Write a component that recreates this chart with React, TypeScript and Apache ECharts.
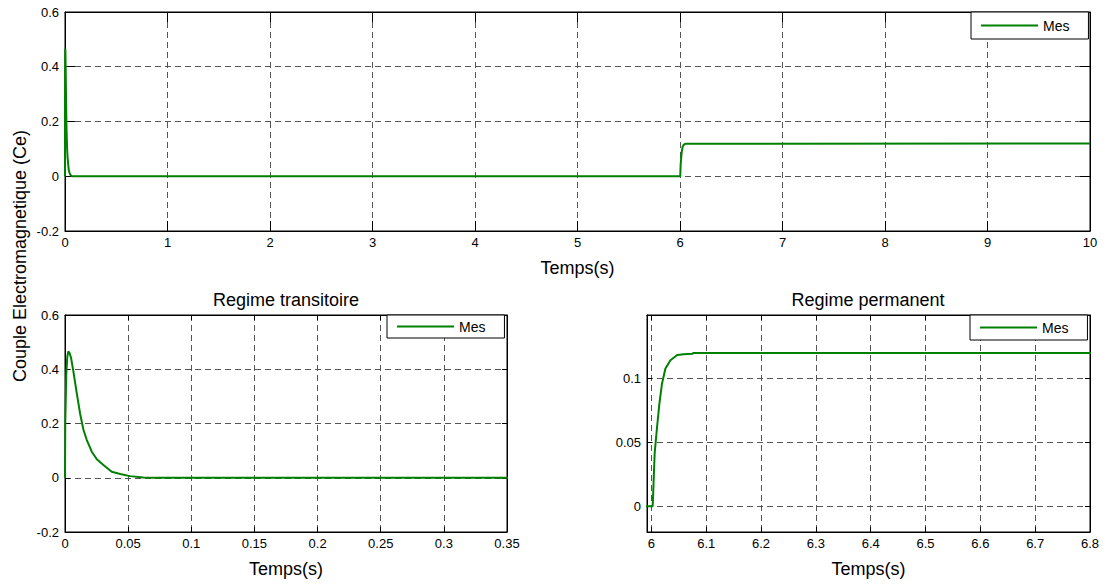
import React, { useEffect, useRef } from "react";
import * as echarts from "echarts";

// Time (s) and electromagnetic torque (Ce)
const TIME = [
  0, 0.0002, 0.001, 0.0018, 0.0026, 0.0036, 0.0048, 0.0066, 0.0093, 0.0119,
  0.0146, 0.0172, 0.0212, 0.0252, 0.0304, 0.037, 0.0437, 0.0516, 0.062, 0.07,
  6.0024, 6.006, 6.0104, 6.0146, 6.0195, 6.0256, 6.0348, 6.047, 6.059, 6.0744,
  6.077, 10,
];
const CE = [
  0, 0.2, 0.38, 0.445, 0.466, 0.46, 0.442, 0.393, 0.312, 0.238,
  0.177, 0.14, 0.096, 0.068, 0.047, 0.022, 0.0136, 0.006, 0.001, 0,
  0, 0.0415, 0.062, 0.08, 0.096, 0.1075, 0.114, 0.118, 0.1187, 0.119,
  0.1197, 0.1197,
];

const SERIES_NAME = "Mes";
const TITLES = ["Regime transitoire", "Regime permanent"];
const X_LABEL = "Temps(s)";
const Y_LABEL = "Couple Electromagnetique (Ce)";

// axis ranges [min, max, step]
const TOP_X = [0, 10, 1];
const TOP_Y = [-0.2, 0.6, 0.2];
const TR_X = [0, 0.35, 0.05];
const TR_Y = [-0.2, 0.6, 0.2];
const PERM_X = [5.992, 6.8, 0.1];
const PERM_Y = [-0.0202, 0.1493, 0.05];

const FONT = "'Liberation Sans', Arial, sans-serif";
const GREEN = "#008000";

const GRIDS = [
  { left: 65, top: 12, width: 1025, height: 219, tick: 10 },
  { left: 65, top: 315, width: 442, height: 217, tick: 5 },
  { left: 647, top: 315, width: 443, height: 217, tick: 5 },
];

const splitLine = {
  show: true,
  showMinLine: false,
  showMaxLine: false,
  lineStyle: { color: "#555", type: [6, 4], width: 1 },
};

function axisPair(kind: "x" | "y", gi: number, range: number[], fixedInterval: boolean, named: boolean) {
  const [min, max, step] = range;
  const tickLen = GRIDS[gi].tick;
  const scale: any = fixedInterval
    ? { min, max, interval: step }
    : { min, max, minInterval: step, maxInterval: step };
  const main: any = {
    type: "value",
    gridIndex: gi,
    position: kind === "x" ? "bottom" : "left",
    ...scale,
    axisLine: { show: true, onZero: false, lineStyle: { color: "#000", width: 1 } },
    axisTick: { show: true, inside: true, length: tickLen, lineStyle: { color: "#000" } },
    axisLabel: {
      show: true,
      color: "#000",
      fontSize: 13,
      fontFamily: FONT,
      margin: kind === "x" ? 5 : 6,
      showMinLabel: fixedInterval ? true : false,
      showMaxLabel: fixedInterval || kind === "x" ? true : false,
      hideOverlap: false,
    },
    splitLine,
  };
  if (named) {
    main.name = X_LABEL;
    main.nameLocation = "middle";
    main.nameGap = 28;
    main.nameMoveOverlap = false;
    main.nameTextStyle = { color: "#000", fontSize: 18, fontFamily: FONT };
  }
  const frame: any = {
    type: "value",
    gridIndex: gi,
    position: kind === "x" ? "top" : "right",
    ...scale,
    axisLine: { show: true, onZero: false, lineStyle: { color: "#000", width: 1 } },
    axisTick: { show: true, inside: true, length: tickLen, lineStyle: { color: "#000" } },
    axisLabel: { show: false },
    splitLine: { show: false },
  };
  return [main, frame];
}

function legendAt(left: number, top: number, padV: number) {
  return {
    data: [{ name: SERIES_NAME, icon: "rect" }],
    left,
    top,
    orient: "horizontal",
    icon: "rect",
    itemWidth: 57,
    itemHeight: 2,
    itemGap: 0,
    padding: [padV, 19, padV, 10],
    borderColor: "#000",
    borderWidth: 1,
    borderRadius: 0,
    backgroundColor: "#fff",
    selectedMode: false,
    itemStyle: { color: GREEN, borderWidth: 0 },
    lineStyle: { width: 0 },
    textStyle: { color: "#000", fontSize: 14, lineHeight: 15, fontFamily: FONT },
  };
}

export default function App() {
  const ref = useRef<HTMLDivElement>(null);

  useEffect(() => {
    if (!ref.current) return;
    const chart = echarts.init(ref.current, undefined, { renderer: "svg" });
    const points = TIME.map((t, i) => [t, CE[i]]);

    const xAxes = [
      ...axisPair("x", 0, TOP_X, true, true),
      ...axisPair("x", 1, TR_X, true, true),
      ...axisPair("x", 2, PERM_X, false, true),
    ];
    const yAxes = [
      ...axisPair("y", 0, TOP_Y, true, false),
      ...axisPair("y", 1, TR_Y, true, false),
      ...axisPair("y", 2, PERM_Y, false, false),
    ];

    const series = [0, 1, 2].map((gi) => ({
      name: SERIES_NAME,
      type: "line",
      xAxisIndex: gi * 2,
      yAxisIndex: gi * 2,
      data: points,
      symbol: "none",
      showSymbol: false,
      clip: true,
      lineStyle: { color: GREEN, width: 2 },
      itemStyle: { color: GREEN },
      z: 3,
    }));

    chart.setOption({
      animation: false,
      backgroundColor: "#fff",
      textStyle: { fontFamily: FONT },
      grid: GRIDS.map((g) => ({
        left: g.left,
        top: g.top,
        width: g.width,
        height: g.height,
        containLabel: false,
        outerBoundsMode: "none",
        show: true,
        borderColor: "#000",
        borderWidth: 1,
        backgroundColor: "transparent",
      })),
      xAxis: xAxes,
      yAxis: yAxes,
      series,
      legend: [legendAt(971, 12, 6), legendAt(387, 315, 4), legendAt(970, 315, 5)],
      title: [
        {
          text: TITLES[0],
          left: 286,
          top: 291,
          textAlign: "center",
          padding: 0,
          textStyle: { color: "#000", fontSize: 18, fontWeight: "normal", fontFamily: FONT },
        },
        {
          text: TITLES[1],
          left: 868,
          top: 291,
          textAlign: "center",
          padding: 0,
          textStyle: { color: "#000", fontSize: 18, fontWeight: "normal", fontFamily: FONT },
        },
      ],
      graphic: [
        {
          type: "text",
          x: 20,
          y: 256,
          rotation: Math.PI / 2,
          style: {
            text: Y_LABEL,
            fill: "#000",
            font: `18px ${FONT}`,
            align: "center",
            verticalAlign: "middle",
          },
        },
      ],
    });

    return () => chart.dispose();
  }, []);

  return (
    <div
      ref={ref}
      style={{ position: "absolute", left: 0, top: 0, width: 1105, height: 587 }}
    />
  );
}
